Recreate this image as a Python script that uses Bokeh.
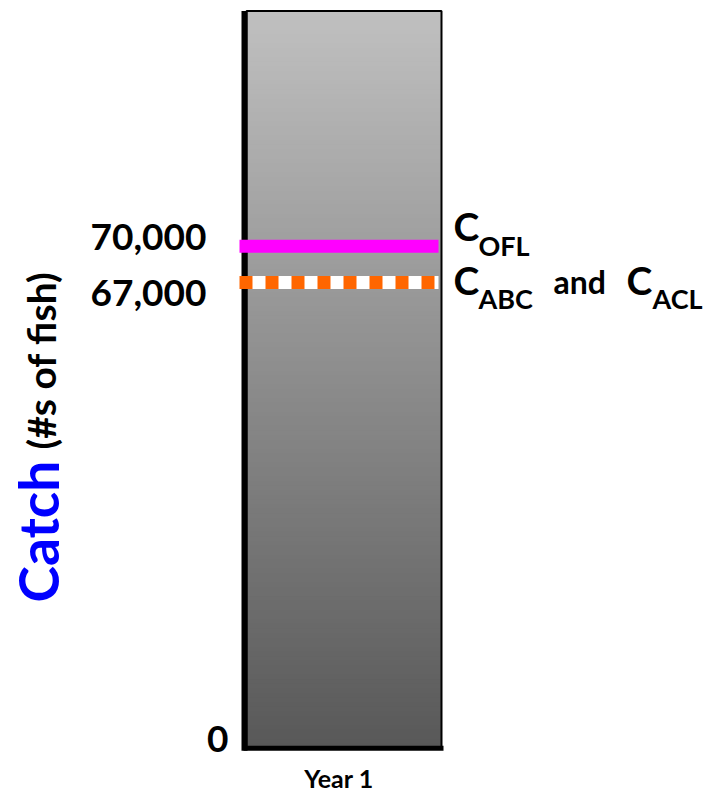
import numpy as np
from bokeh.plotting import figure
from bokeh.models import Range1d
from bokeh.core.properties import value
from bokeh.embed import file_html
from bokeh.resources import INLINE

# ---------------- data ----------------
years = ["Year 1"]
ofl = [70000]            # C_OFL
abc_acl = [67000]        # C_ABC and C_ACL
bar_top = [89500]        # schematic top of the bar
axis_floor = 28400       # broken axis: this level is labelled "0"
tick_labels = ["70,000", "67,000", "0"]
ofl_label = ["C", "OFL"]
abc_label = ["C", "ABC", "and", "C", "ACL"]
y_title = ["Catch", "(#s of fish)"]

# ---------------- layout ----------------
W, H = 715, 795
PX_X = 195.0            # pixels per bar-width unit
PX_K = 12.067           # pixels per 1000 fish
bar_left_px, bar_right_px = 246, 441
ofl_px = 245.8          # vertical pixel position of OFL line from top

x0 = -0.5 - bar_left_px / PX_X
x1 = 0.5 + (W - bar_right_px) / PX_X
y1 = ofl[0] + ofl_px / PX_K * 1000
y0 = ofl[0] - (H - ofl_px) / PX_K * 1000


def px_x(wx):
    return x0 + wx / PX_X


def px_y(wy):
    return y1 - wy / PX_K * 1000


def sh(size):
    # baseline correction for text rendering
    return round(0.3 * size)


p = figure(width=W, height=H, output_backend="svg", toolbar_location=None,
           x_range=Range1d(x0, x1), y_range=Range1d(y0, y1),
           x_axis_location=None, y_axis_location=None, min_border=0)
p.outline_line_color = None
p.grid.visible = False
p.background_fill_color = "white"
p.border_fill_color = "white"

font = value("Lato")

# gradient bar: nested quads from the floor, tallest (lightest) first
n = 160
edges = np.linspace(axis_floor, bar_top[0], n + 1)
fr = (edges[:-1] + edges[1:]) / 2
t = (fr - axis_floor) / (bar_top[0] - axis_floor)
g = (88 + t * (192 - 88)).round().astype(int)
cols = ["#%02x%02x%02x" % (v, v, v) for v in g]
order = np.arange(n)[::-1]
p.quad(left=-0.5, right=0.5, bottom=axis_floor, top=edges[1:][order],
       fill_color=[cols[i] for i in order], line_color=None)
p.quad(left=[-0.5], right=[0.5], bottom=[axis_floor], top=bar_top,
       fill_color=None, line_color="black", line_width=2)

# axis lines
p.segment(x0=[-0.5 - 2 / PX_X], y0=[axis_floor - 2.5 / PX_K * 1000],
          x1=[-0.5 - 2 / PX_X], y1=bar_top, line_color="black",
          line_width=6, line_cap="butt")
p.segment(x0=[-0.5 - 3 / PX_X], y0=[axis_floor], x1=[0.5 + 2 / PX_X],
          y1=[axis_floor], line_color="black", line_width=5, line_cap="butt")

# catch limit lines
lx0, lx1 = -0.5 - 7 / PX_X, 0.5 - 3 / PX_X
p.segment(x0=[lx0], y0=ofl, x1=[lx1], y1=ofl, line_color="#FF00FF",
          line_width=13, line_cap="butt")
p.segment(x0=[lx0], y0=abc_acl, x1=[lx1], y1=abc_acl, line_color="white",
          line_width=13, line_cap="butt")
p.segment(x0=[lx0], y0=abc_acl, x1=[lx1], y1=abc_acl, line_color="#FF6600",
          line_width=13, line_cap="butt", line_dash="13 13")

# tick labels (left)
p.text(x=[-0.5, -0.5, -0.5], y=[ofl[0], abc_acl[0], axis_floor],
       text=tick_labels, x_offset=[-40, -40, -18],
       y_offset=[2 - sh(37), 21 - sh(37), 2 - sh(37)],
       text_align="right", text_baseline="alphabetic", text_font=font,
       text_font_style="bold", text_font_size="37px", text_color="black")

# right labels
p.text(x=[0.5], y=ofl, text=[ofl_label[0]], x_offset=12, y_offset=-8 - sh(39),
       text_align="left", text_baseline="alphabetic", text_font=font,
       text_font_style="bold", text_font_size="39px", text_color="black")
p.text(x=[0.5], y=ofl, text=[ofl_label[1]], x_offset=37, y_offset=7 - sh(27),
       text_align="left", text_baseline="alphabetic", text_font=font,
       text_font_style="bold", text_font_size="27px", text_color="black")
p.text(x=[0.5] * 3, y=[abc_acl[0]] * 3,
       text=[abc_label[0], abc_label[2], abc_label[3]],
       x_offset=[12, 112, 185],
       y_offset=[9 - sh(39), 9 - sh(32), 9 - sh(39)],
       text_align="left", text_baseline="alphabetic", text_font=font,
       text_font_style="bold", text_font_size=["39px", "32px", "39px"],
       text_color="black")
p.text(x=[0.5] * 2, y=[abc_acl[0]] * 2, text=[abc_label[1], abc_label[4]],
       x_offset=[37, 211], y_offset=24 - sh(27),
       text_align="left", text_baseline="alphabetic", text_font=font,
       text_font_style="bold", text_font_size="27px", text_color="black")

# x label
p.text(x=[0], y=[axis_floor], text=years, x_offset=-5, y_offset=38 - sh(25),
       text_align="center", text_baseline="alphabetic", text_font=font,
       text_font_style="bold", text_font_size="25px", text_color="black")

# y title (rotated)
p.text(x=[px_x(37)], y=[px_y(602)], text=[y_title[0]], angle=np.pi / 2,
       text_align="left", text_baseline="alphabetic", text_font=font,
       text_font_style="bold", text_font_size="55px", text_color="#0000FF")
p.text(x=[px_x(40)], y=[px_y(449)], text=[y_title[1]], angle=np.pi / 2,
       text_align="left", text_baseline="alphabetic", text_font=font,
       text_font_style="bold", text_font_size="39px", text_color="black")

open("out.html", "w").write(file_html(p, INLINE))
